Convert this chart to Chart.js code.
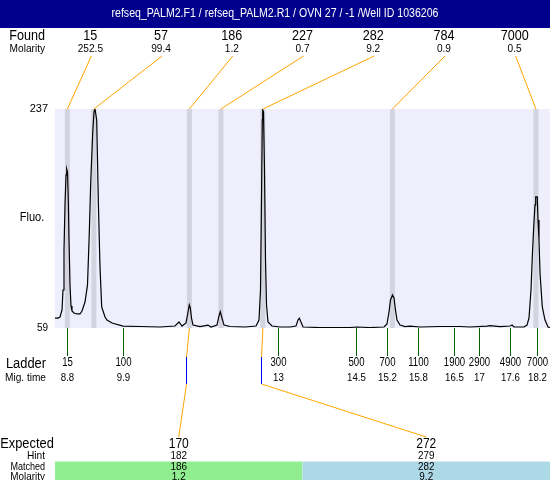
<!DOCTYPE html>
<html><head><meta charset="utf-8">
<script src="https://cdn.jsdelivr.net/npm/chart.js@4.4.1/dist/chart.umd.min.js"></script>
<style>html,body{margin:0;padding:0;background:#fff}#wrap{width:550px;height:480px;position:relative}</style>
</head><body><div id="wrap"><canvas id="c" width="550" height="480"></canvas></div>
<script>
const titleText = 'refseq_PALM2.F1 / refseq_PALM2.R1 / OVN 27 / -1 /Well ID 1036206';
const yRange = [59, 237];
const xRange = [8.552, 18.452];
const traceTimes = [8.552,8.612,8.652,8.692,8.712,8.732,8.752,8.772,8.786,8.802,8.818,8.832,8.852,8.872,8.892,8.932,8.992,
9.052,9.092,9.152,9.202,9.238,9.266,9.306,9.332,9.352,9.386,9.418,9.452,9.486,9.552,9.592,9.692,9.912,10.252,10.652,10.952,
11.032,11.092,11.172,11.212,11.238,11.258,11.282,11.312,11.452,11.612,11.672,11.792,11.832,11.858,11.892,11.932,12.052,12.352,
12.572,12.632,12.662,12.682,12.698,12.706,12.722,12.742,12.762,12.782,12.812,12.892,13.052,13.252,13.372,13.412,13.438,13.472,
13.512,13.852,14.452,14.592,14.852,15.132,15.192,15.232,15.262,15.302,15.332,15.362,15.392,15.452,15.552,15.652,15.852,16.252,
16.652,16.852,17.192,17.252,17.452,17.652,17.692,17.732,17.932,17.992,18.032,18.072,18.098,18.126,18.152,18.166,18.198,18.212,
18.232,18.252,18.298,18.352,18.412,18.452];
const traceFluo = [67.1,67.1,67.9,73.6,89.9,122.4,159,183.4,188.2,185.8,163,130.5,94,76.9,72.8,71.2,70.4,
70.4,72.8,80.1,94,136.2,176.9,217.5,234.6,237,228.1,163,108.6,76.1,67.9,65.5,63.1,60.6,60.2,59.8,60.6,
63.9,60.6,63.1,72,77.7,75.3,67.1,61.4,60.2,61.4,59.8,61.4,68.8,72.2,67.1,61.4,60.2,59.8,
60.6,65.5,89.9,163,228.1,236.2,234.6,187.4,114.3,77.7,63.9,60.6,59.8,59.8,60.6,65.5,66.9,63.9,
59.8,59.4,59.4,59.8,59.4,59.8,62.3,72,81.8,85.8,83.4,73.6,65.5,61.4,60.2,60.6,59.8,60.2,
60.2,59.8,60.6,61,60.2,60.6,61.4,59.8,59.8,61.4,67.1,89.9,116.7,141.1,159,165.5,165.5,146.8,
130.5,103.7,76.1,65.5,59.8,59.4];
const foundSizes = ['15','57','186','227','282','784','7000'];
const foundMolarity = ['252.5','99.4','1.2','0.7','9.2','0.9','0.5'];
const foundTimes = [8.80, 9.33, 11.24, 11.87, 12.71, 15.30, 18.17];
const ladderSizes = ['15','100','300','500','700','1100','1900','2900','4900','7000'];
const ladderTimes = [8.80, 9.92, 13.01, 14.57, 15.19, 15.82, 16.53, 17.04, 17.66, 18.20];
const ladderTimeLabels = ['8.8','9.9','13','14.5','15.2','15.8','16.5','17','17.6','18.2'];
const expectedSizes = ['170','272'];
const hintSizes = ['182','279'];
const matchedSizes = ['186','282'];
const matchedMolarity = ['1.2','9.2'];
const hintTimes = [11.17, 12.67];
const matchedTimes = [11.24, 12.71];
const matchColors = ['#90EE90', '#ADD8E6'];

const FAM = "'Liberation Sans',Arial,sans-serif";

// text drawn horizontally condensed (sx) to mimic the narrow bitmap font
function txt(ctx, s, x, y, size, align, sx, color) {
  ctx.save();
  ctx.font = size + 'px ' + FAM;
  ctx.textAlign = align || 'center';
  ctx.textBaseline = 'middle';
  ctx.fillStyle = color || '#000';
  ctx.translate(x, y);
  ctx.scale(sx || 1, 1);
  ctx.fillText(s, 0, 0);
  ctx.restore();
}
function seg(ctx, color, x1, y1, x2, y2) {
  ctx.strokeStyle = color; ctx.lineWidth = 1;
  ctx.beginPath(); ctx.moveTo(x1, y1); ctx.lineTo(x2, y2); ctx.stroke();
}

const decor = {
  id: 'decor',
  beforeDraw(chart) {
    const ctx = chart.ctx, a = chart.chartArea, xs = chart.scales.x;
    ctx.save();
    ctx.fillStyle = '#fff'; ctx.fillRect(0, 0, chart.width, chart.height);
    ctx.fillStyle = '#00008C'; ctx.fillRect(0, 0, chart.width, 28);
    ctx.fillStyle = 'rgb(238,238,252)'; ctx.fillRect(a.left, a.top, a.right - a.left, a.bottom - a.top);
    ctx.fillStyle = 'rgb(212,212,224)';
    foundTimes.forEach(t => { const x = xs.getPixelForValue(t); ctx.fillRect(x - 2.5, a.top, 5, a.bottom - a.top); });
    ctx.restore();
  },
  afterDraw(chart) {
    const ctx = chart.ctx, a = chart.chartArea, xs = chart.scales.x;
    const W = a.right - a.left;
    ctx.save();
    txt(ctx, titleText, chart.width / 2, 14, 12, 'center', 0.88, '#fff');
    // found header
    txt(ctx, 'Found', 45, 36, 14, 'right', 0.9);
    txt(ctx, 'Molarity', 45, 48.5, 11, 'right', 0.92);
    foundSizes.forEach((s, i) => {
      const cx = a.left + (i + 0.5) * W / foundSizes.length;
      txt(ctx, s, cx, 36, 14, 'center', 0.9);
      txt(ctx, foundMolarity[i], cx, 48.5, 11, 'center', 0.92);
      seg(ctx, '#FFA500', cx + 1, 56, xs.getPixelForValue(foundTimes[i]), a.top);
    });
    txt(ctx, 'Fluo.', 32, 218, 12, 'center', 0.92);
    // ladder
    txt(ctx, 'Ladder', 46, 364, 14, 'right', 0.92);
    txt(ctx, 'Mig. time', 46, 378, 11, 'right', 0.92);
    ladderSizes.forEach((s, i) => {
      const x = Math.round(xs.getPixelForValue(ladderTimes[i])) + 0.5;
      seg(ctx, '#006400', x, a.bottom, x, 356);
      txt(ctx, s, x, 363, 12, 'center', 0.8);
      txt(ctx, ladderTimeLabels[i], x, 377.5, 11, 'center', 0.88);
    });
    // expected table
    txt(ctx, 'Expected', 27, 444, 14, 'center', 0.92);
    txt(ctx, 'Hint', 45, 456, 11, 'right', 0.92);
    txt(ctx, 'Matched', 45, 466.5, 11, 'right', 0.82);
    txt(ctx, 'Molarity', 45, 476.5, 11, 'right', 0.9);
    const cw = W / expectedSizes.length;
    expectedSizes.forEach((s, i) => {
      const x0 = a.left + i * cw, cx = x0 + cw / 2;
      ctx.fillStyle = matchColors[i]; ctx.fillRect(x0, 461.5, cw, 480 - 461.5);
      txt(ctx, s, cx, 444, 14, 'center', 0.86);
      txt(ctx, hintSizes[i], cx, 456, 11, 'center', 0.9);
      txt(ctx, matchedSizes[i], cx, 466.5, 11, 'center', 0.9);
      txt(ctx, matchedMolarity[i], cx, 476.5, 11, 'center', 0.9);
      const hx = Math.round(xs.getPixelForValue(hintTimes[i])) + 0.5;
      seg(ctx, '#FFA500', cx, 437, hx, 384);
      seg(ctx, '#0000FF', hx, 384, hx, 357);
      seg(ctx, '#FFA500', hx, 357, xs.getPixelForValue(matchedTimes[i]), a.bottom);
    });
    ctx.restore();
  }
};

new Chart(document.getElementById('c'), {
  type: 'line',
  data: { datasets: [{ data: traceTimes.map((t, i) => ({ x: t, y: traceFluo[i] })),
    borderColor: '#000', borderWidth: 1.2, pointRadius: 0, tension: 0, fill: false }] },
  options: {
    responsive: false, animation: false,
    layout: { padding: { left: 0, right: 0, top: 109, bottom: 152 } },
    scales: {
      x: { type: 'linear', min: xRange[0], max: xRange[1], display: false },
      y: { min: yRange[0], max: yRange[1],
        grid: { display: false, drawTicks: false }, border: { display: false },
        afterFit(s) { s.width = 55; },
        afterBuildTicks(s) { s.ticks = [{ value: yRange[0] }, { value: yRange[1] }]; },
        ticks: { color: '#000', padding: 7,
          font: c => ({ family: FAM, size: c.tick && c.tick.value === yRange[0] ? 10 : 11 }) } }
    },
    plugins: { legend: { display: false }, tooltip: { enabled: false }, title: { display: false } }
  },
  plugins: [decor]
});
</script></body></html>
